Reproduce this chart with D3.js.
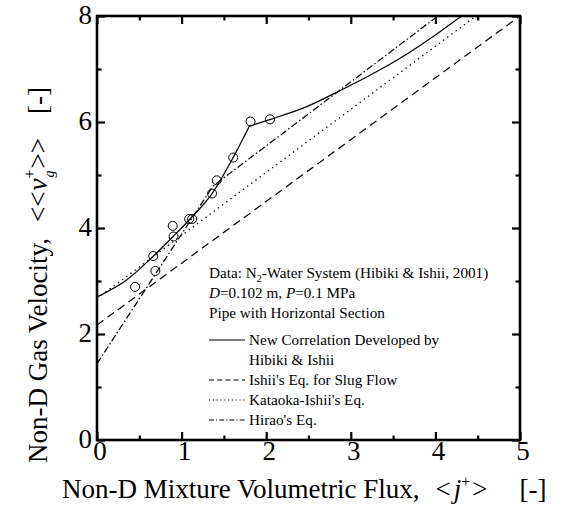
<!DOCTYPE html>
<html>
<head>
<meta charset="utf-8">
<script src="https://cdn.jsdelivr.net/npm/d3@7"></script>
<style>
  html, body { margin: 0; padding: 0; background: #fff; }
  svg { display: block; font-family: "Liberation Serif", "Times New Roman", serif; }
</style>
</head>
<body>
<svg id="chart" width="565" height="522"></svg>
<script>
// Axis ticks
const xMajor = [0, 1, 2, 3, 4, 5];
const xMinor = [0.5, 1.5, 2.5, 3.5, 4.5];
const yMajor = [0, 2, 4, 6, 8];
const yMinor = [1, 3, 5, 7];

// Measured data: N2-water, D = 0.102 m, P = 0.1 MPa
const dataJ  = [0.45, 0.665, 0.69, 0.895, 0.905, 1.09, 1.125, 1.36, 1.415, 1.61, 1.815, 2.045];
const dataVg = [2.89, 3.47, 3.19, 4.04, 3.84, 4.17, 4.17, 4.65, 4.90, 5.33, 6.01, 6.05];

// New correlation (Hibiki & Ishii), two branches
const newLowJ   = [0, 0.35, 0.66, 0.90, 1.10, 1.36, 1.61, 1.80];
const newLowVg  = [2.70, 3.02, 3.46, 3.84, 4.17, 4.65, 5.33, 5.92];
const newHighJ  = [1.80, 2.05, 2.48, 2.87, 3.27, 3.66, 4.05, 4.31];
const newHighVg = [5.92, 6.05, 6.29, 6.59, 6.92, 7.28, 7.70, 8.00];

// Ishii's equation for slug flow
const ishiiJ  = [0, 5];
const ishiiVg = [2.17, 8.00];

// Kataoka-Ishii's equation
const kataokaJ  = [0, 4.48];
const kataokaVg = [2.67, 8.00];

// Hirao's equation
const hiraoJ  = [0, 1.37, 4.03];
const hiraoVg = [1.44, 4.79, 8.00];

const svg = d3.select("#chart");
const pL = 97, pR = 520, pT = 16, pB = 440;

const x = d3.scaleLinear().domain([0, 5]).range([pL, pR]);
const y = d3.scaleLinear().domain([0, 8]).range([pB, pT]);

const zip = (a, b) => a.map((v, i) => [v, b[i]]);

svg.append("defs").append("clipPath").attr("id", "plot")
  .append("rect").attr("x", pL).attr("y", pT)
  .attr("width", pR - pL).attr("height", pB - pT);

const plot = svg.append("g").attr("clip-path", "url(#plot)");

const lineStraight = d3.line().x(d => x(d[0])).y(d => y(d[1]));
const lineSmooth = d3.line().x(d => x(d[0])).y(d => y(d[1])).curve(d3.curveMonotoneX);

const curveStyle = sel => sel.attr("fill", "none").attr("stroke", "#000").attr("stroke-width", 1.25);

plot.append("path").datum(zip(ishiiJ, ishiiVg)).attr("d", lineStraight)
  .call(curveStyle).attr("stroke-dasharray", "8,5");
plot.append("path").datum(zip(kataokaJ, kataokaVg)).attr("d", lineStraight)
  .call(curveStyle).attr("stroke-dasharray", "1.4,3.8");
plot.append("path").datum(zip(hiraoJ, hiraoVg)).attr("d", lineStraight)
  .call(curveStyle).attr("stroke-dasharray", "7,2.5,1.5,2.5");
plot.append("path").datum(zip(newLowJ, newLowVg)).attr("d", lineSmooth).call(curveStyle);
plot.append("path").datum(zip(newHighJ, newHighVg)).attr("d", lineSmooth).call(curveStyle);

plot.selectAll("circle.obs").data(zip(dataJ, dataVg)).join("circle")
  .attr("class", "obs")
  .attr("cx", d => x(d[0])).attr("cy", d => y(d[1])).attr("r", 4.5)
  .attr("fill", "none").attr("stroke", "#000").attr("stroke-width", 1);

// Inward ticks on all four sides
function ticks(axisFn, scale, values, size, pos, labels) {
  const ax = axisFn(scale).tickValues(values).tickSize(-size).tickSizeOuter(0)
    .tickFormat(labels ? d3.format("d") : "");
  const g = svg.append("g").attr("transform", pos).call(ax);
  g.select(".domain").remove();
  g.selectAll(".tick line").attr("stroke", "#000").attr("stroke-width", 2.2);
  return g;
}
const gxb = ticks(d3.axisBottom, x, xMajor, 8, `translate(0,${pB})`, true);
ticks(d3.axisBottom, x, xMinor, 4.5, `translate(0,${pB})`, false);
const gyl = ticks(d3.axisLeft, y, yMajor, 8, `translate(${pL},0)`, true);
ticks(d3.axisLeft, y, yMinor, 4.5, `translate(${pL},0)`, false);
ticks(d3.axisTop, x, xMajor, 8, `translate(0,${pT})`, false);
ticks(d3.axisTop, x, xMinor, 4.5, `translate(0,${pT})`, false);
ticks(d3.axisRight, y, yMajor, 8, `translate(${pR},0)`, false);
ticks(d3.axisRight, y, yMinor, 4.5, `translate(${pR},0)`, false);

gxb.selectAll(".tick text")
  .attr("font-family", "Liberation Serif").attr("font-size", 27).attr("fill", "#000")
  .attr("dy", null).attr("y", 20).attr("dx", 2.5);
gyl.selectAll(".tick text")
  .attr("font-family", "Liberation Serif").attr("font-size", 27).attr("fill", "#000")
  .attr("x", -5).attr("dy", "0.27em");

// Frame
svg.append("rect").attr("x", pL).attr("y", pT)
  .attr("width", pR - pL).attr("height", pB - pT)
  .attr("fill", "none").attr("stroke", "#000").attr("stroke-width", 2.6);

// Axis titles
const xt = svg.append("text").attr("x", 62).attr("y", 498)
  .attr("font-size", 27).attr("fill", "#000");
xt.append("tspan").text("Non-D Mixture Volumetric Flux,");
xt.append("tspan").attr("dx", 16).text("<");
xt.append("tspan").attr("font-style", "italic").attr("dx", 3).text("j");
xt.append("tspan").attr("font-size", 16).attr("dy", -11).text("+");
xt.append("tspan").attr("dy", 11).attr("dx", 2).text(">");
xt.append("tspan").attr("dx", 32).text("[-]");

const yt = svg.append("text").attr("transform", "translate(47,463) rotate(-90)")
  .attr("font-size", 27).attr("fill", "#000");
yt.append("tspan").text("Non-D Gas Velocity,");
yt.append("tspan").attr("dx", 16).text("<<");
yt.append("tspan").attr("font-style", "italic").attr("dx", 1).text("v");
yt.append("tspan").attr("font-size", 16).attr("dy", -12).text("+");
yt.append("tspan").attr("font-size", 14).attr("dx", -8).attr("dy", 19).attr("font-style", "italic").text("g");
yt.append("tspan").attr("dy", -7).attr("dx", 2).text(">>");
yt.append("tspan").attr("dx", 24).text("[-]");

// Legend block
const lg = svg.append("g").attr("font-size", 15.2).attr("fill", "#000");
const lx = 209;
const t1 = lg.append("text").attr("x", lx).attr("y", 278);
t1.append("tspan").text("Data: N");
t1.append("tspan").attr("font-size", 10).attr("dy", 4).text("2");
t1.append("tspan").attr("dy", -4).text("-Water System (Hibiki & Ishii, 2001)");
const t2 = lg.append("text").attr("x", lx).attr("y", 298);
t2.append("tspan").attr("font-style", "italic").text("D");
t2.append("tspan").text("=0.102 m, ");
t2.append("tspan").attr("font-style", "italic").text("P");
t2.append("tspan").text("=0.1 MPa");
lg.append("text").attr("x", lx).attr("y", 318).text("Pipe with Horizontal Section");

const legendItems = [
  { lines: ["New Correlation Developed by", "Hibiki & Ishii"], dash: null, y: 345 },
  { lines: ["Ishii's Eq. for Slug Flow"], dash: "5,3.2", y: 385 },
  { lines: ["Kataoka-Ishii's Eq."], dash: "1.2,2.6", y: 405 },
  { lines: ["Hirao's Eq."], dash: "5,2,1.2,2", y: 425 }
];
legendItems.forEach(it => {
  lg.append("line").attr("x1", lx).attr("x2", 245)
    .attr("y1", it.y - 5).attr("y2", it.y - 5)
    .attr("stroke", "#000").attr("stroke-width", 1.1)
    .attr("stroke-dasharray", it.dash);
  it.lines.forEach((s, i) => {
    lg.append("text").attr("x", 249).attr("y", it.y + i * 20).text(s);
  });
});
</script>
</body>
</html>
